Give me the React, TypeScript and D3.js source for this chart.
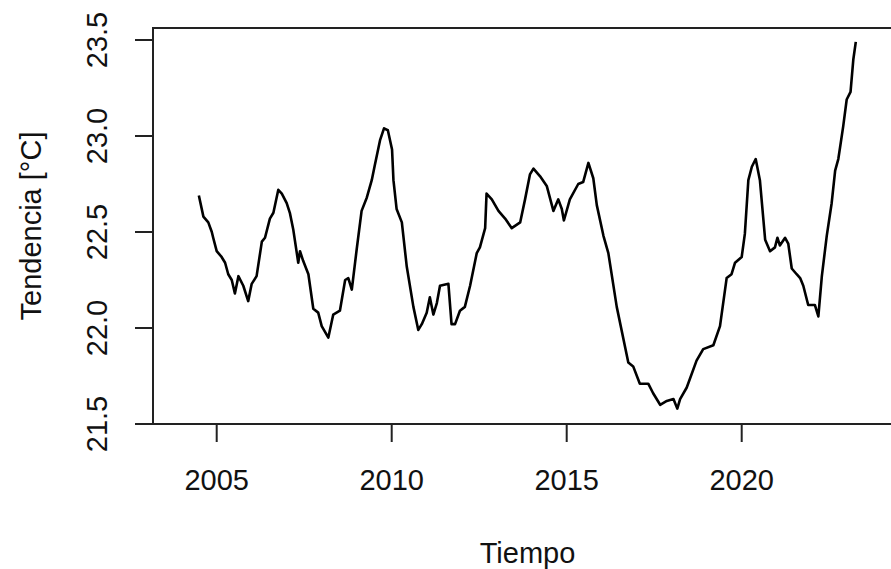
import React from "react";
import * as d3 from "d3";

// Trend component of the temperature series (decimal year, °C)
const years: number[] = [
  2004.49, 2004.62, 2004.76, 2004.86, 2004.9, 2005.0, 2005.14, 2005.24, 2005.33, 2005.43,
  2005.52, 2005.62, 2005.76, 2005.9, 2006.0, 2006.14, 2006.29, 2006.38, 2006.52, 2006.62,
  2006.76, 2006.86, 2007.0, 2007.09, 2007.19, 2007.33, 2007.38, 2007.47, 2007.62, 2007.76,
  2007.9, 2008.0, 2008.19, 2008.33, 2008.52, 2008.67, 2008.76, 2008.86, 2009.0, 2009.14,
  2009.29, 2009.43, 2009.52, 2009.67, 2009.78, 2009.89, 2010.01, 2010.05, 2010.14, 2010.29,
  2010.43, 2010.62, 2010.76, 2010.86, 2011.0, 2011.09, 2011.19, 2011.29, 2011.38, 2011.62,
  2011.71, 2011.81, 2011.95, 2012.09, 2012.24, 2012.43, 2012.52, 2012.67, 2012.71, 2012.86,
  2013.05, 2013.24, 2013.43, 2013.67, 2013.81, 2013.95, 2014.05, 2014.24, 2014.43, 2014.62,
  2014.76, 2014.86, 2014.92, 2015.09, 2015.33, 2015.47, 2015.62, 2015.76, 2015.86, 2016.05,
  2016.19, 2016.43, 2016.76, 2016.9, 2017.09, 2017.33, 2017.47, 2017.67, 2017.86, 2018.05,
  2018.16, 2018.24, 2018.43, 2018.71, 2018.9, 2019.19, 2019.38, 2019.57, 2019.71, 2019.81,
  2020.0, 2020.09, 2020.19, 2020.29, 2020.4, 2020.52, 2020.67, 2020.81, 2020.95, 2021.02,
  2021.09, 2021.24, 2021.33, 2021.43, 2021.57, 2021.67, 2021.76, 2021.9, 2022.09, 2022.19,
  2022.29, 2022.43, 2022.57, 2022.67, 2022.76, 2022.81, 2022.9, 2023.0, 2023.11, 2023.19,
  2023.26,
];

const trend: number[] = [
  22.69, 22.58, 22.55, 22.5, 22.47, 22.4, 22.37, 22.34, 22.28, 22.25,
  22.18, 22.27, 22.22, 22.14, 22.23, 22.27, 22.45, 22.47, 22.57, 22.6,
  22.72, 22.7, 22.65, 22.6, 22.51, 22.34, 22.4, 22.35, 22.28, 22.1,
  22.08, 22.01, 21.95, 22.07, 22.09, 22.25, 22.26, 22.2, 22.41, 22.61,
  22.68, 22.77, 22.85, 22.98, 23.04, 23.03, 22.93, 22.77, 22.62, 22.55,
  22.32, 22.11, 21.99, 22.02, 22.08, 22.16, 22.07, 22.13, 22.22, 22.23,
  22.02, 22.02, 22.09, 22.11, 22.22, 22.39, 22.42, 22.52, 22.7, 22.67,
  22.61, 22.57, 22.52, 22.55, 22.67, 22.8, 22.83, 22.79, 22.74, 22.61,
  22.67, 22.62, 22.56, 22.67, 22.75, 22.76, 22.86, 22.78, 22.64, 22.48,
  22.39, 22.11, 21.82, 21.8, 21.71, 21.71, 21.66, 21.6, 21.62, 21.63,
  21.58, 21.63, 21.69, 21.83, 21.89, 21.91, 22.01, 22.26, 22.28, 22.34,
  22.37, 22.49, 22.77, 22.84, 22.88, 22.77, 22.46, 22.4, 22.42, 22.47,
  22.43, 22.47, 22.44, 22.31, 22.28, 22.26, 22.22, 22.12, 22.12, 22.06,
  22.27, 22.48, 22.65, 22.82, 22.88, 22.94, 23.05, 23.19, 23.23, 23.4,
  23.49,
];

const xTicks: number[] = [2005, 2010, 2015, 2020];
const yTicks: number[] = [21.5, 22.0, 22.5, 23.0, 23.5];

const W = 891;
const H = 569;
const left = 153;
const right = 902;
const top = 28;
const bottom = 424;
const font = "'Liberation Sans', Arial, Helvetica, sans-serif";
const fs = 29;

export default function App() {
  const x = d3.scaleLinear().domain([2003.18, 2024.58]).range([left, right]);
  const y = d3.scaleLinear().domain([21.5, 23.5625]).range([bottom, top]);

  const pts = years.map((yr, i) => [yr, trend[i]] as [number, number]);
  const line = d3
    .line<[number, number]>()
    .x((d) => x(d[0]))
    .y((d) => y(d[1]));

  const tickLen = 18;

  return (
    <svg
      width={W}
      height={H}
      style={{ position: "absolute", left: 0, top: 0, background: "#fff" }}
      fontFamily={font}
    >
      <rect x={0} y={0} width={W} height={H} fill="#fff" />
      <path d={line(pts) || ""} fill="none" stroke="#000" strokeWidth={2.6} strokeLinejoin="round" />

      {/* plot box */}
      <rect x={left} y={top} width={right - left} height={bottom - top} fill="none" stroke="#222" strokeWidth={2} />

      {/* x axis */}
      <line x1={x(xTicks[0])} x2={x(xTicks[xTicks.length - 1])} y1={bottom} y2={bottom} stroke="#222" strokeWidth={2} />
      {xTicks.map((t) => (
        <g key={t}>
          <line x1={x(t)} x2={x(t)} y1={bottom} y2={bottom + tickLen} stroke="#222" strokeWidth={2} />
          <text x={x(t)} y={490} textAnchor="middle" fontSize={fs} fill="#111">
            {t}
          </text>
        </g>
      ))}

      {/* y axis */}
      <line x1={left} x2={left} y1={y(yTicks[0])} y2={y(yTicks[yTicks.length - 1])} stroke="#222" strokeWidth={2} />
      {yTicks.map((t) => (
        <g key={t}>
          <line x1={left} x2={left - tickLen} y1={y(t)} y2={y(t)} stroke="#222" strokeWidth={2} />
          <text
            transform={`translate(107,${y(t)}) rotate(-90)`}
            textAnchor="middle"
            fontSize={fs}
            fill="#111"
          >
            {d3.format(".1f")(t)}
          </text>
        </g>
      ))}

      <text x={(left + right) / 2} y={563} textAnchor="middle" fontSize={fs} fill="#111">
        Tiempo
      </text>
      <text
        transform={`translate(41,${(top + bottom) / 2}) rotate(-90)`}
        textAnchor="middle"
        fontSize={fs}
        fill="#111"
      >
        Tendencia [°C]
      </text>
    </svg>
  );
}
